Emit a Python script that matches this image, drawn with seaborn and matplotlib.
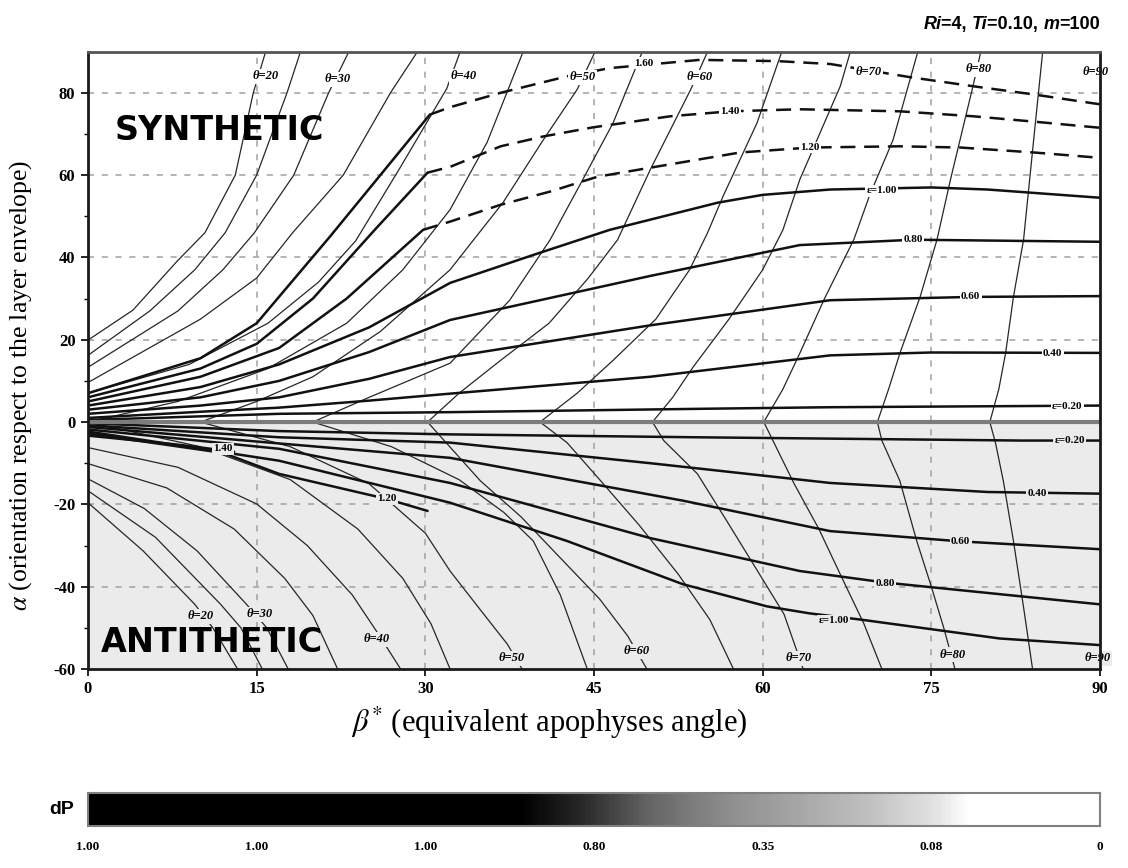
import numpy as np
import matplotlib
matplotlib.use('Agg')
import matplotlib.pyplot as plt
import seaborn as sns
from matplotlib.colors import LinearSegmentedColormap
from matplotlib.offsetbox import TextArea, HPacker, AnchoredOffsetbox

sns.set_theme(style='white')
plt.rcParams['font.family'] = ['Liberation Serif', 'DejaVu Serif']
plt.rcParams['axes.unicode_minus'] = False
plt.rcParams['mathtext.fontset'] = 'stix'
for k in ['text.color', 'axes.labelcolor', 'xtick.color', 'ytick.color']:
    plt.rcParams[k] = 'black'

# theta curves above alpha=0 : theta -> (beta*, alpha)
theta_up = {
    20: ([0, 4, 7.9, 10.4, 13.1, 14.7, 15.8], [19.9, 27.2, 39, 46, 60, 80, 90]),
    25: ([0, 5.5, 9.5, 12.2, 15, 17.7, 18.9], [16.2, 27, 37, 46, 60, 80, 90]),
    30: ([0, 8, 12, 14.8, 18.3, 21.4, 23.2], [13.3, 27, 37, 46, 60, 80, 90]),
    35: ([0, 10, 15, 18.2, 22.7, 26.9, 29.3], [9.6, 25, 35, 46, 60, 80, 90]),
    40: ([0, 9, 16, 20.5, 23.8, 27.8, 31.9, 33.1], [7, 14, 24, 34, 44, 62, 81, 90]),
    45: ([0, 8, 16, 23, 28, 32.2, 35.5, 38.7], [0, 5, 13, 24, 37, 51.6, 68, 90]),
    50: ([10, 15, 20, 26, 32.2, 34.3, 36.9, 40.5, 43.5, 45.1], [0, 5, 11, 22, 37, 44.3, 53.3, 68.6, 80.8, 90]),
    55: ([20, 25, 32.2, 37.5, 41.1, 44, 46.7, 49.3], [0, 6, 14.3, 29.6, 44.3, 58.9, 72.7, 90]),
    60: ([30.2, 33, 36.7, 41, 44.5, 47.1, 50, 53.6, 55.1], [0, 7, 15, 24, 35, 44.3, 61.3, 80.8, 90]),
    65: ([40.2, 43.5, 46.7, 50.5, 53.5, 55.1, 56.5, 59.5, 61.7], [0, 7, 15, 25, 37, 46, 55, 72.7, 90]),
    70: ([50.2, 52, 53.8, 57, 60, 61.8, 63.3, 66.9, 67.8], [0, 6, 13.3, 25, 37, 46.7, 58.9, 81.6, 90]),
    75: ([60.1, 61.8, 63.3, 65.5, 68.1, 69.5, 71.6, 73.8], [0, 8, 16.7, 30, 44.3, 55, 68.6, 90]),
    80: ([70.2, 71.2, 72.2, 74, 75.5, 76.7, 78.7, 79.4], [0, 8, 16.7, 30.4, 44.3, 58.9, 81.6, 90]),
    85: ([80.2, 81, 81.6, 82.3, 83.2, 84.1, 84.9], [0, 8, 16.7, 30.4, 44.3, 68.6, 90]),
}

# theta curves below alpha=0
theta_lo = {
    20: ([0, 4.9, 9.5, 11.1, 13.3], [-19.6, -31.3, -44.3, -50, -60]),
    25: ([0, 6, 11.8, 13.6, 15.5], [-16.7, -28, -44.3, -50, -60]),
    30: ([0, 5, 9.7, 14.1, 15.9, 17.8], [-13.8, -21, -31.3, -44.3, -50, -60]),
    35: ([0, 7, 13, 17.5, 20, 22.2], [-10.1, -16, -26, -38, -47, -60]),
    40: ([0, 8, 15, 19.5, 23.5, 25.7, 27.8], [-6.2, -11, -19.9, -30, -42, -51, -60]),
    45: ([0, 10, 18, 24, 28, 30.5, 32.2], [0, -6, -14, -26, -38, -49, -60]),
    50: ([10, 18, 25, 30, 32.2, 35, 37.3, 38.6], [0, -6, -15, -27, -36.2, -46, -54, -60]),
    55: ([20, 27, 33, 37, 39.6, 42, 44.4], [0, -6, -14, -22, -28.9, -42, -60]),
    60: ([30.2, 34.9, 38.5, 42, 45.5, 48, 49.7], [0, -14.3, -23, -33, -43, -52, -60]),
    65: ([40.2, 42.6, 45.6, 49, 52.5, 55.3, 57.4], [0, -5, -14.3, -25, -37, -48, -60]),
    70: ([50.2, 51.2, 54.2, 56.8, 59.5, 61.9, 63.6], [0, -4.5, -12.6, -24, -36, -46.7, -60]),
    75: ([60.1, 61, 62.8, 65, 66.9, 69, 70.6], [0, -5, -15, -26, -37, -49, -60]),
    80: ([70.2, 70.6, 72.2, 73.7, 75, 76.1, 77.1], [0, -4.5, -14.3, -28.9, -40, -50, -60]),
    85: ([80.2, 80.7, 81.4, 82.3, 83.2, 84], [0, -5, -14.3, -28.9, -45, -60]),
}

# strain (epsilon) curves, synthetic side, solid part
eps_up_solid = {
    0.2: ([0, 17, 32.2, 54, 66, 90], [0.5, 2.0, 2.4, 3.2, 3.6, 4.0]),
    0.4: ([0, 10, 17, 25, 32.2, 50, 66, 75, 90], [1, 2.5, 3.5, 5.2, 6.9, 11, 16.2, 16.9, 16.8]),
    0.6: ([0, 10, 17, 25, 32.2, 50, 66, 78.5, 90], [2, 4, 6, 10.5, 15.8, 23.5, 29.6, 30.4, 30.6]),
    0.8: ([0, 10, 17, 25, 32.2, 50, 63.3, 73.4, 90], [3, 6, 10, 17, 24.8, 35.5, 43, 44.3, 43.8]),
    1.0: ([0, 10, 17, 25, 32.2, 39.6, 46.4, 56, 60, 66, 75, 80, 90],
          [4, 8.5, 14, 23, 33.8, 40.6, 46.7, 53.3, 55.2, 56.5, 57, 56.5, 54.5]),
    1.2: ([0, 10, 17, 23, 29.8], [5, 11, 18, 30, 46.7]),
    1.4: ([0, 10, 15, 20, 25.5, 30.2], [6, 13, 19, 30, 46.7, 60.6]),
    1.6: ([0, 10, 15, 21.5, 26, 30.4], [7, 15.5, 24, 45, 60, 74.7]),
}

# synthetic side, dashed continuation
eps_up_dash = {
    1.2: ([29.8, 32.2, 36.7, 41.1, 45.3, 50, 58, 64.2, 72.2, 77.6, 84.1, 90],
          [46.7, 48.7, 52.8, 56, 59.6, 61.8, 65.5, 66.7, 67, 66.7, 65.5, 64.2]),
    1.4: ([30.2, 32.2, 36.7, 40.5, 44.9, 51.8, 57.1, 63.3, 72.2, 78.7, 84.1, 90],
          [60.6, 62, 67, 69.4, 71.6, 74.3, 75.5, 76, 75.5, 74.3, 73, 71.5]),
    1.6: ([30.4, 32.2, 36.7, 42.6, 46.4, 54.4, 61.3, 66, 73.1, 78.7, 84.1, 90],
          [74.7, 76.5, 80, 84, 86, 88, 87.7, 87, 83.8, 81.6, 79.6, 77.2]),
}

# antithetic side
eps_lo = {
    0.2: ([0, 17, 32.2, 54, 83, 90], [-0.3, -2.2, -3.0, -3.7, -4.5, -4.5]),
    0.4: ([0, 17, 32.2, 50, 66, 80, 90], [-0.8, -3.7, -5, -10, -14.8, -17, -17.4]),
    0.6: ([0, 17, 32.2, 52.9, 66, 77.6, 90], [-1.2, -5.2, -8.7, -19.1, -26.5, -29, -30.9]),
    0.8: ([0, 17, 32.2, 50, 63.3, 70.9, 90], [-1.8, -6.5, -14.8, -28.2, -36.2, -39, -44.3]),
    1.0: ([0, 17, 32.2, 42.6, 52.9, 60.4, 64.2, 68.7, 81.1, 90],
          [-2.3, -9.4, -19.6, -28.9, -39.4, -44.8, -46.5, -48, -52.6, -54.2]),
    1.2: ([0, 12, 17, 26.6, 30.2], [-2.8, -7.5, -12.6, -18.7, -21.6]),
    1.4: ([0, 8, 13], [-3.3, -5.5, -7.2]),
}

# inline labels (text, beta*, alpha)
eps_labels = [('1.60', 49.4, 87.2), ('1.40', 57.1, 75.5), ('1.20', 64.2, 66.7),
              ('ε=1.00', 70.6, 56.2), ('0.80', 73.4, 44.3), ('0.60', 78.5, 30.4),
              ('0.40', 85.8, 16.7), ('ε=0.20', 87.1, 3.7),
              ('ε=0.20', 87.3, -4.5), ('0.40', 84.4, -17.4), ('0.60', 77.6, -29.1),
              ('0.80', 70.9, -39.2), ('ε=1.00', 66.3, -48.2), ('1.20', 26.6, -18.7),
              ('1.40', 12.0, -6.5)]
theta_labels = [(20, 15.8, 84.0), (30, 22.2, 83.3), (40, 33.4, 84.0), (50, 44.0, 83.8),
                (60, 54.4, 83.8), (70, 69.4, 85.0), (80, 79.2, 85.7), (90, 89.6, 85.0),
                (20, 10.0, -47.2), (30, 15.3, -46.7), (40, 25.7, -52.8), (50, 37.7, -57.4),
                (60, 48.8, -55.7), (70, 63.2, -57.4), (80, 76.9, -56.5), (90, 89.8, -57.4)]

# dP colour bar
dp_pos = [0.0, 0.427, 0.485, 0.556, 0.628, 0.699, 0.77, 0.842, 0.87, 1.0]
dp_gray = [0.0, 0.0, 0.15, 0.40, 0.55, 0.65, 0.75, 0.90, 1.0, 1.0]
dp_ticklabels = ['1.00', '1.00', '1.00', '0.80', '0.35', '0.08', '0']

x_ticks = [0, 15, 30, 45, 60, 75, 90]
y_ticks = [-60, -40, -20, 0, 20, 40, 60, 80]

LOW_BG = '#ebebeb'

fig = plt.figure(figsize=(11.28, 8.68), dpi=100)
ax = fig.add_axes([0.078, 0.2293, 0.8972, 0.7112])
ax.set_xlim(0, 90)
ax.set_ylim(-60, 90)
ax.axhspan(-60, 0, color=LOW_BG, zorder=0, lw=0)

for gx in x_ticks[1:-1]:
    ax.axvline(gx, color='#a0a0a0', lw=1.1, ls=(0, (4, 5)), zorder=1)
for gy in [-40, -20, 20, 40, 60, 80]:
    ax.axhline(gy, color='#a0a0a0', lw=1.1, ls=(0, (4, 5)), zorder=1)


def draw(x, y, lw, color, ls='-'):
    sns.lineplot(x=x, y=y, ax=ax, sort=False, estimator=None, color=color,
                 lw=lw, linestyle=ls, zorder=3)


for th, (x, y) in theta_up.items():
    draw(x, y, 0.9, '#262626')
for th, (x, y) in theta_lo.items():
    draw(x, y, 0.9, '#262626')

for e, (x, y) in eps_up_solid.items():
    draw(x, y, 1.8, '#111111')
for e, (x, y) in eps_up_dash.items():
    draw(x, y, 1.8, '#111111', ls=(0, (6, 3.5)))
for e, (x, y) in eps_lo.items():
    draw(x, y, 1.8, '#111111')

ax.axhline(0, color='#7c7c7c', lw=3, zorder=4)

for s, x, y in eps_labels:
    ax.text(x, y, s, ha='center', va='center', fontsize=8, fontweight='bold',
            bbox=dict(boxstyle='square,pad=0.12', fc='white' if y > 0 else LOW_BG, ec='none'),
            zorder=6)
for th, x, y in theta_labels:
    ax.text(x, y, f'θ={th}', ha='center', va='center', fontsize=9, fontweight='bold',
            fontstyle='italic', clip_on=False,
            bbox=dict(boxstyle='square,pad=0.12', fc='white' if y > 0 else LOW_BG, ec='none'),
            zorder=6)

ax.text(2.4, 70.8, 'SYNTHETIC', fontsize=24, fontweight='heavy', family='DejaVu Sans',
        color='black', ha='left', va='center', zorder=7)
ax.text(1.1, -53.6, 'ANTITHETIC', fontsize=24, fontweight='heavy', family='DejaVu Sans',
        color='black', ha='left', va='center', zorder=7)

ax.set_xticks(x_ticks, [str(v) for v in x_ticks], fontsize=12, fontweight='bold')
ax.set_yticks(y_ticks, [str(v) for v in y_ticks], fontsize=12, fontweight='bold')
ax.set_yticks([-50, -30, -10, 10, 30, 50, 70], minor=True)
ax.tick_params(axis='both', which='major', direction='out', length=5, width=1.2,
               color='black', pad=4, left=True, bottom=True)
ax.tick_params(axis='y', which='minor', direction='out', length=3, width=1.0, left=True)
for sp in ax.spines.values():
    sp.set_color('#1a1a1a')
    sp.set_linewidth(2)
    sp.set_zorder(8)
ax.spines['top'].set_color('#555555')

ax.set_ylabel(r'$\alpha$ (orientation respect to the layer envelope)', fontsize=18.5)
ax.yaxis.set_label_coords(-0.053, 0.46)
ax.set_xlabel(r'$\beta^{*}$ (equivalent apophyses angle)', fontsize=22)
ax.xaxis.set_label_coords(0.456, -0.058)

# title with italic parameter names
parts = [('Ri', 'italic'), ('=4, ', 'normal'), ('Ti', 'italic'), ('=0.10, ', 'normal'),
         ('m', 'italic'), ('=100', 'normal')]
areas = [TextArea(s, textprops=dict(family='Liberation Sans', weight='bold', style=st,
                                    size=13, color='black'))
         for s, st in parts]
box = HPacker(children=areas, align='baseline', pad=0, sep=0)
anch = AnchoredOffsetbox(loc='lower right', child=box, pad=0, borderpad=0, frameon=False,
                         bbox_to_anchor=(1.0, 1.03), bbox_transform=ax.transAxes)
ax.add_artist(anch)

# dP bar
cax = fig.add_axes([0.078, 0.0484, 0.8972, 0.038])
cmap = LinearSegmentedColormap.from_list('dp', [(p, (g, g, g)) for p, g in zip(dp_pos, dp_gray)])
cax.imshow(np.linspace(0, 1, 600)[None, :], aspect='auto', cmap=cmap, extent=[0, 90, 0, 1])
cax.set_xlim(0, 90)
cax.set_yticks([])
cax.set_xticks(x_ticks, dp_ticklabels, fontsize=9.5, fontweight='bold')
cax.tick_params(axis='x', length=0, pad=11)
for sp in cax.spines.values():
    sp.set_color('#808080')
    sp.set_linewidth(1.5)
fig.text(0.055, 0.067, 'dP', family='Liberation Sans', fontweight='bold', fontsize=14,
         color='black', ha='center', va='center')

fig.savefig('out.png', dpi=100)
